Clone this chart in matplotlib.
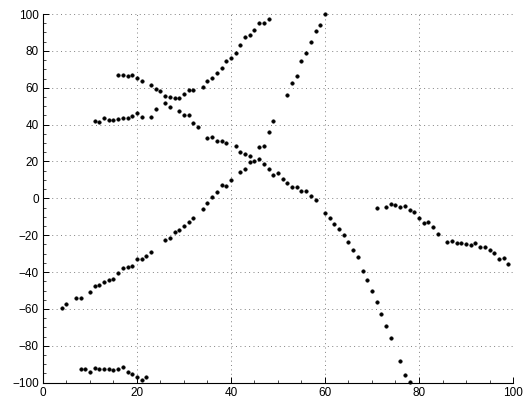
import numpy as np
import matplotlib
matplotlib.use("Agg")
import matplotlib.pyplot as plt
from matplotlib.ticker import MultipleLocator

plt.rcParams['font.family'] = ['Liberation Sans', 'DejaVu Sans']

# Frequency tracks: frame index and value per detected peak
track_a_x = [16, 17, 18, 19, 20, 21, 23, 24, 25, 26, 27, 29, 30, 31, 32, 33, 35, 36, 37, 38,
             39, 41, 42, 43, 44, 46, 47, 48, 49, 50, 51, 52, 53, 54, 55, 56, 57, 58, 60, 61,
             62, 63, 64, 65, 66, 67, 68, 69, 70, 71, 72, 73, 74, 76, 77, 78]
track_a_y = [66.7, 66.7, 66.2, 66.7, 65.2, 63.6, 61.3, 59.1, 58.0, 51.5, 49.7, 47.4, 45.0, 45.0,
             40.7, 38.8, 32.7, 33.1, 31.1, 31.1, 30.2, 28.4, 25.3, 24.2, 22.9, 21.3, 18.4, 16.1,
             12.8, 13.9, 10.6, 8.3, 6.1, 6.1, 3.8, 3.8, 1.1, -1.0, -8.0, -10.5, -14.1, -16.8,
             -20.0, -23.9, -27.9, -32.0, -39.3, -44.5, -50.3, -56.4, -62.6, -69.1, -75.6,
             -88.4, -96.0, -99.8]

track_b_x = [11, 12, 13, 14, 15, 16, 17, 18, 19, 20, 21, 23, 24, 26, 27, 28, 29, 30, 31, 32,
             34, 35, 36, 37, 38, 39, 40, 41, 42, 43, 44, 45, 46, 47, 48]
track_b_y = [42.1, 41.4, 43.4, 42.5, 42.5, 43.0, 43.4, 43.4, 44.8, 46.4, 43.9, 44.3, 48.3,
             55.5, 54.8, 54.6, 54.6, 56.6, 58.7, 58.7, 60.5, 63.8, 65.2, 67.8, 70.9, 74.3,
             76.1, 78.6, 83.3, 87.3, 88.6, 91.1, 95.3, 95.3, 97.4]

track_c_x = [4, 5, 7, 8, 10, 11, 12, 13, 14, 15, 16, 17, 18, 19, 20, 21, 22, 23, 26, 27, 28,
             29, 30, 31, 32, 34, 35, 36, 37, 38, 39, 40, 42, 43, 44, 45, 46, 47, 48, 49, 52,
             53, 54, 55, 56, 57, 58, 59, 60]
track_c_y = [-59.5, -57.2, -54.1, -54.1, -50.6, -47.4, -46.9, -45.2, -44.5, -43.9, -40.3,
             -37.6, -37.4, -36.9, -33.1, -33.1, -31.5, -29.3, -22.8, -21.4, -18.1, -17.0,
             -15.2, -12.7, -10.9, -5.6, -2.4, 1.0, 3.6, 7.4, 6.8, 10.2, 14.1, 16.1, 19.8,
             20.2, 27.8, 28.5, 35.8, 42.1, 56.2, 62.4, 66.5, 74.3, 78.8, 84.6, 90.6, 93.8, 99.8]

track_d_x = [8, 9, 10, 11, 12, 13, 14, 15, 16, 17, 18, 19, 20, 21, 22]
track_d_y = [-92.8, -92.8, -94.4, -92.2, -92.6, -92.6, -92.4, -93.3, -92.8, -91.7, -94.4,
             -95.5, -96.8, -98.6, -97.1]

track_e_x = [71, 73, 74, 75, 76, 77, 78, 79, 80, 81, 82, 83, 84, 86, 87, 88, 89, 90, 91, 92,
             93, 94, 95, 96, 97, 98, 99]
track_e_y = [-5.3, -4.9, -3.3, -3.6, -4.7, -4.0, -6.3, -7.4, -10.8, -13.4, -12.9, -15.6,
             -19.4, -23.9, -23.3, -24.4, -24.2, -25.0, -25.5, -24.4, -26.3, -26.6, -28.0,
             -29.8, -32.8, -32.2, -35.5]

x_ticks = [0, 20, 40, 60, 80, 100]
y_ticks = [-100, -80, -60, -40, -20, 0, 20, 40, 60, 80, 100]

fig = plt.figure(figsize=(5.26, 4.03), dpi=100)
ax = fig.add_axes([0.0817, 0.0504, 0.8936, 0.9148])

for xs, ys in [(track_a_x, track_a_y), (track_b_x, track_b_y), (track_c_x, track_c_y),
               (track_d_x, track_d_y), (track_e_x, track_e_y)]:
    ax.plot(xs, ys, linestyle='none', marker='o', markersize=2.6,
            markerfacecolor='black', markeredgecolor='black', markeredgewidth=0.3,
            clip_on=False, zorder=3)

ax.set_xlim(0, 100)
ax.set_ylim(-100, 100)
ax.set_xticks(x_ticks)
ax.set_yticks(y_ticks)
ax.xaxis.set_minor_locator(MultipleLocator(5))
ax.yaxis.set_minor_locator(MultipleLocator(5))

ax.grid(True, which='major', linestyle=(0, (1, 3.5)), linewidth=0.7, color='0.5')

for side in ['top', 'right']:
    ax.spines[side].set_visible(False)
for side in ['left', 'bottom']:
    ax.spines[side].set_linewidth(0.8)
    ax.spines[side].set_color('black')

ax.tick_params(which='major', direction='in', length=4, width=0.7, labelsize=8.5,
               top=False, right=False, pad=3)
ax.tick_params(which='minor', direction='in', length=2, width=0.5, top=False, right=False)

fig.savefig('out.png', dpi=100)
